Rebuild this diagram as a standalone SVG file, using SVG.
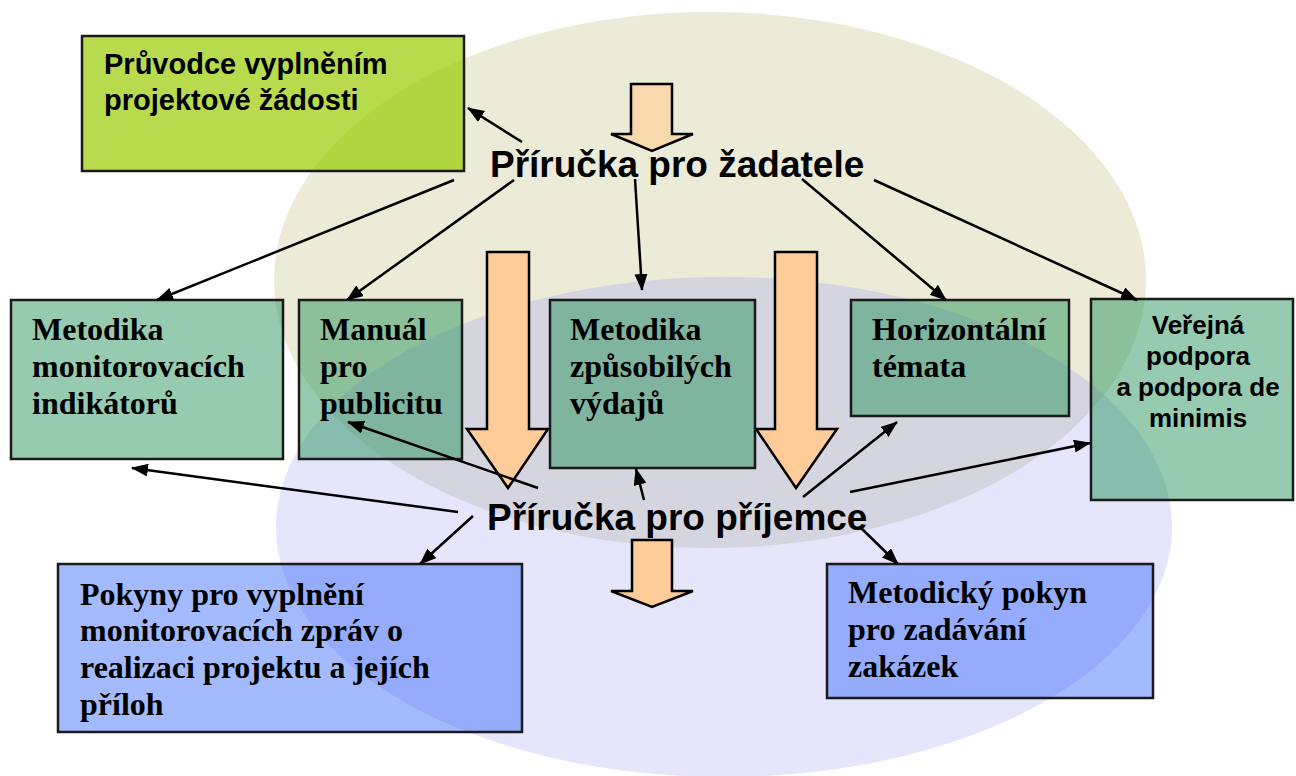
<svg xmlns="http://www.w3.org/2000/svg" width="1296" height="776" viewBox="0 0 1296 776">
<style>
.bg{fill:#ffffff}
.teal{fill:rgb(27,142,83);fill-opacity:0.46;stroke:#1a1a1a;stroke-width:2.5}
.blue{fill:#3366ff;fill-opacity:0.45;stroke:#1a1a1a;stroke-width:2.5}
.green{fill:#99cc00;fill-opacity:0.7;stroke:#1a1a1a;stroke-width:2.5}
.serif{font-family:"Liberation Serif","Times New Roman",serif;font-weight:bold;font-size:32px;fill:#000}
.sans{font-family:"Liberation Sans",Arial,sans-serif;font-weight:bold;fill:#000}
.big{fill:#ffcc99;stroke:#000;stroke-width:2.5;stroke-linejoin:miter}
.conn{stroke:#000;stroke-width:2.5;fill:none;marker-end:url(#ah)}
</style>
<defs>
<marker id="ah" markerUnits="userSpaceOnUse" markerWidth="18" markerHeight="14" refX="16" refY="6.5" orient="auto">
<path d="M0,0 L17,6.5 L0,13 z" fill="#000"/>
</marker>
<clipPath id="clipLav"><ellipse cx="724" cy="527" rx="448" ry="250"/></clipPath>
</defs>
<rect class="bg" x="0" y="0" width="1296" height="776"/>
<g id="ellipses">
<ellipse cx="710" cy="280" rx="436" ry="268" fill="#ecebd8"/>
<ellipse cx="724" cy="527" rx="448" ry="250" fill="#e5e5fb"/>
<ellipse cx="710" cy="280" rx="436" ry="268" fill="#d5d5df" clip-path="url(#clipLav)"/>
</g>
<g id="block-arrows">
<polygon points="631,84 672,84 672,134 693,134 652,151 611,134 631,134" fill="#f8d8ad" stroke="#000" stroke-width="2.5"/>
<polygon class="big" points="487,252 529,252 529,429 548,429 508,488 467,429 487,429"/>
<polygon class="big" points="775,252 817,252 817,429 837,429 796,488 756,429 775,429"/>
<polygon class="big" points="632,540 672,540 672,591 693,591 652,607 611,591 632,591"/>
</g>
<g id="node-pruvodce">
<rect class="green" x="82" y="36" width="382" height="135"/>
<text class="sans" font-size="29" x="104" y="74">Průvodce vyplněním</text>
<text class="sans" font-size="29" x="104" y="110">projektové žádosti</text>
</g>
<g id="node-zadatel">
<text class="sans" font-size="37" x="490" y="177">Příručka pro žadatele</text>
</g>
<g id="node-prijemce">
<text class="sans" font-size="37" x="487" y="530">Příručka pro příjemce</text>
</g>
<g id="node-metodika-monitorovacich">
<rect class="teal" x="11" y="300" width="272" height="159"/>
<text class="serif" x="32" y="340">Metodika</text>
<text class="serif" x="32" y="377">monitorovacích</text>
<text class="serif" x="32" y="414">indikátorů</text>
</g>
<g id="node-manual">
<rect class="teal" x="299" y="300" width="163" height="159"/>
<text class="serif" x="320" y="340">Manuál</text>
<text class="serif" x="320" y="377">pro</text>
<text class="serif" x="320" y="414">publicitu</text>
</g>
<g id="node-metodika-zpusobilych">
<rect class="teal" x="550" y="300" width="205" height="168"/>
<text class="serif" x="570" y="340">Metodika</text>
<text class="serif" x="570" y="377">způsobilých</text>
<text class="serif" x="570" y="414">výdajů</text>
</g>
<g id="node-horizontalni">
<rect class="teal" x="851" y="300" width="218" height="116"/>
<text class="serif" x="872" y="340">Horizontální</text>
<text class="serif" x="872" y="377">témata</text>
</g>
<g id="node-verejna">
<rect class="teal" x="1091" y="299" width="202" height="201"/>
<text class="sans" font-size="26" text-anchor="middle" x="1198" y="334">Veřejná</text>
<text class="sans" font-size="26" text-anchor="middle" x="1198" y="365">podpora</text>
<text class="sans" font-size="26" text-anchor="middle" x="1198" y="396">a podpora de</text>
<text class="sans" font-size="26" text-anchor="middle" x="1198" y="427">minimis</text>
</g>
<g id="node-pokyny">
<rect class="blue" x="58" y="564" width="464" height="168"/>
<text class="serif" x="80" y="605">Pokyny pro vyplnění</text>
<text class="serif" x="80" y="641">monitorovacích zpráv o</text>
<text class="serif" x="80" y="678">realizaci projektu a jejích</text>
<text class="serif" x="80" y="715">příloh</text>
</g>
<g id="node-metodicky-pokyn">
<rect class="blue" x="827" y="564" width="326" height="134"/>
<text class="serif" x="848" y="603">Metodický pokyn</text>
<text class="serif" x="848" y="640">pro zadávání</text>
<text class="serif" x="848" y="677">zakázek</text>
</g>
<g id="connectors">
<line class="conn" x1="522" y1="142" x2="468" y2="108"/>
<line class="conn" x1="454" y1="180" x2="157" y2="300"/>
<line class="conn" x1="514" y1="180" x2="347" y2="300"/>
<line class="conn" x1="635" y1="179" x2="642" y2="290"/>
<line class="conn" x1="802" y1="179" x2="946" y2="300"/>
<line class="conn" x1="874" y1="180" x2="1137" y2="300"/>
<line class="conn" x1="538" y1="488" x2="348" y2="422"/>
<line class="conn" x1="458" y1="512" x2="132" y2="468"/>
<line class="conn" x1="473" y1="516" x2="420" y2="564"/>
<line class="conn" x1="644" y1="500" x2="636" y2="469"/>
<line class="conn" x1="803" y1="497" x2="897" y2="422"/>
<line class="conn" x1="850" y1="492" x2="1090" y2="443"/>
<line class="conn" x1="860" y1="527" x2="898" y2="564"/>
</g>
</svg>
